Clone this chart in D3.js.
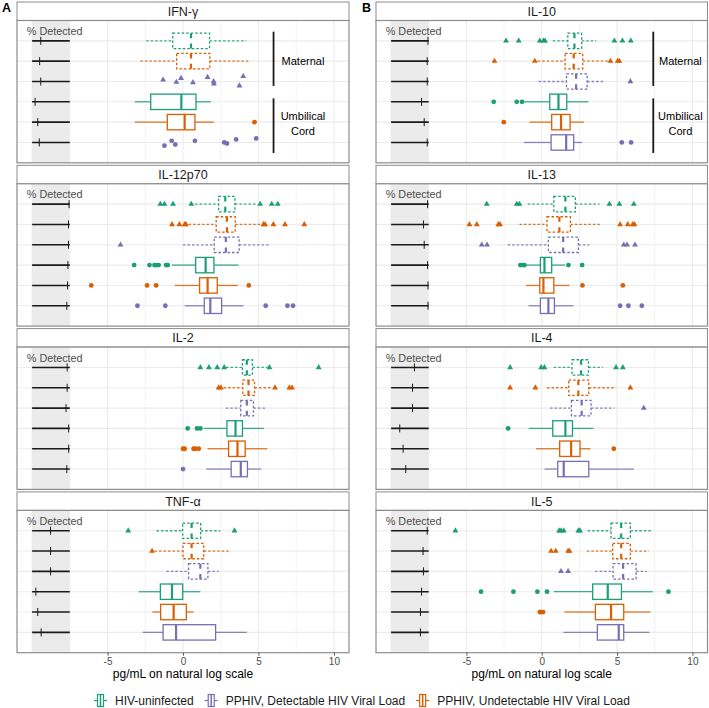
<!DOCTYPE html>
<html><head><meta charset="utf-8">
<script src="https://cdn.jsdelivr.net/npm/d3@7"></script>
<style>body{margin:0;background:#fff} svg{display:block;font-family:"Liberation Sans",Arial,Helvetica,sans-serif}</style>
</head><body><svg id="c" width="709" height="708"></svg>
<script>
// ---------------- data ----------------
const cytokines = ["IFN-γ","IL-12p70","IL-2","TNF-α","IL-10","IL-13","IL-4","IL-5"];
const rowGroups = [0,1,2,0,1,2]; // 0 HIV-uninfected, 1 PPHIV Undetectable, 2 PPHIV Detectable
const rowSample = ["Maternal","Maternal","Maternal","Umbilical Cord","Umbilical Cord","Umbilical Cord"];
const groupNames = ["HIV-uninfected","PPHIV, Undetectable HIV Viral Load","PPHIV, Detectable HIV Viral Load"];
const legendOrder = [0,2,1];
const groupColors = ["#1b9e77","#d95f02","#7570b3"];
const xTickValues = [-5,0,5,10];
const gridBreaks = [-10,-7.5,-5,-2.5,0,2.5,5,7.5,10];

// box stats per row: [lower whisker, q1, median, q3, upper whisker]; null = points only
const ifng_box = [[-2.44,-0.68,0.53,1.76,4.19],[-2.82,-0.42,0.53,1.78,4.45],null,[-3.19,-2.14,-0.11,0.86,1.85],[-3.19,-1.04,0.11,0.79,2.03],null];
const ifng_pts = [[],[],[-1.32,-0.44,-0.13,0.66,1.63,2.03,2.05,3.74,3.99],[],[4.74],[-1.23,-0.75,-0.51,0.79,2.73,2.91,3.52,4.85]];
const ifng_jit = [[],[],[-0.08,0.03,-0.16,0.05,-0.21,0,0.11,0.21,-0.25],[],[0],[0.16,-0.08,0.1,-0.08,0,0.05,-0.15,-0.2]];
const ifng_pct = [0.23,0.20,0.23,0.08,0.15,0.19];

const il12_box = [[0.8,2.36,2.80,3.44,4.9],[0.37,2.20,2.91,3.46,5.1],[0,2.07,2.84,3.72,5.81],[-0.73,0.84,1.50,2.05,3.68],[-0.55,1.10,1.63,2.27,3.63],[0.11,1.41,1.81,2.56,4.01]];
const il12_pts = [[-1.50,-1.23,-0.66,0.55,5.11,5.88,6.28],[-0.73,-0.24,0.11,0.20,5.33,5.44,5.99,6.76,8.04],[-4.14],[-3.24,-2.22,-1.89,-1.76,-1.61,-1.12,-1.01],[-6.08,-2.38,-1.78,4.36],[-3.02,-1.17,5.48,6.92,7.29]];
const il12_pct = [0.98,0.965,0.965,0.95,0.94,0.92];

const il2_box = [[2.85,3.94,4.23,4.60,5.6],[2.69,3.96,4.34,4.74,5.88],[2.84,3.83,4.23,4.67,5.55],[1.37,2.91,3.48,3.94,5.37],[1.63,3.02,3.61,4.12,5.59],[1.54,3.19,3.83,4.27,5.18]];
const il2_pts = [[1.15,1.72,2.27,2.73,5.73,8.99],[2.36,2.51,6.10,7.05,7.22],[],[0.31,0.93,1.15],[0.0,0.11,0.70,0.81,1.04],[0.0]];
const il2_pct = [0.93,0.93,0.90,0.97,0.97,0.92];

const tnf_box = [[-1.76,-0.02,0.57,1.17,2.47],[-1.89,0,0.57,1.37,3.17],[-1.10,0.37,1.15,1.65,2.36],[-2.93,-1.50,-0.73,-0.02,1.15],[-2.03,-1.48,-0.62,0.22,0.70],[-2.67,-1.32,-0.46,2.16,4.23]];
const tnf_pts = [[-3.63,3.41],[-2.05],[],[],[],[]];
const tnf_pct = [0.49,0.49,0.49,0.10,0.15,0.24];

const il10_box = [[0.73,1.73,2.17,2.65,3.61],[-0.27,1.55,2.12,2.72,4.45],[-0.20,1.64,2.28,3.01,4.20],[-1.15,0.53,1.11,1.66,3.10],[-0.82,0.66,1.28,1.88,2.79],[-1.19,0.62,1.62,2.12,2.68]];
const il10_pts = [[-2.37,-1.53,-0.13,0.11,0.22,4.82,5.35,5.91],[-3.14,-0.46,4.56,5.04,5.15],[5.88],[-3.19,-1.66,-1.31],[-2.52],[5.31,5.93]];
const il10_pct = [0.98,0.96,0.96,0.81,0.88,0.96];

const il13_box = [[-0.93,0.80,1.57,2.23,3.83],[-1.48,0.35,1.17,1.90,3.98],[-2.26,0.44,1.42,2.43,3.16],[-1.04,-0.09,0.18,0.66,1.55],[-1.04,-0.13,0.11,0.80,1.84],[-0.88,-0.09,0.44,0.84,2.10]];
const il13_pts = [[-3.65,-1.66,-1.48,4.49,5.15,6.11],[-4.80,-4.31,-2.88,-2.77,5.20,5.71,6.04,6.15],[-3.98,-3.63,5.44,5.66,6.19],[-1.42,-1.26,-1.15,1.77,2.68],[2.70,5.38],[5.20,5.75,6.64]];
const il13_pct = [0.97,0.86,0.88,0.97,0.98,0.98];

const il4_box = [[0.80,2.01,2.61,3.10,4.05],[0.35,1.79,2.43,3.12,4.93],[0.55,1.97,2.65,3.27,4.82],[-0.86,0.73,1.57,2.04,3.43],[-0.38,1.19,1.95,2.54,3.23],[0.18,1.06,1.46,3.12,6.11]];
const il4_pts = [[-2.10,-0.04,0.18,4.93,5.38],[-2.10,-0.42,5.88],[6.77],[-2.23],[4.78],[]];
const il4_pct = [0.62,0.57,0.57,0.23,0.32,0.39];

const il5_box = [[3.05,4.60,5.27,5.88,7.37],[2.99,4.71,5.27,5.88,7.10],[3.54,4.73,5.40,6.26,6.97],[0.80,3.38,4.38,5.29,7.37],[1.50,3.56,4.60,5.44,7.21],[1.44,3.69,5.11,5.44,7.15]];
const il5_pts = [[-5.73,1.15,1.28,1.46,2.43,2.54],[0.62,0.93,1.75,1.84],[1.28,1.75],[-4.03,-1.88,-0.29,0.35,8.41],[-0.13,-0.04,0.09],[]];
const il5_pct = [0.96,0.85,0.86,0.81,0.78,0.78];

const panelBoxes = [ifng_box, il12_box, il2_box, tnf_box, il10_box, il13_box, il4_box, il5_box];
const panelPts = [ifng_pts, il12_pts, il2_pts, tnf_pts, il10_pts, il13_pts, il4_pts, il5_pts];
const panelJit = [ifng_jit, null, null, null, null, null, null, null];
const panelPct = [ifng_pct, il12_pct, il2_pct, tnf_pct, il10_pct, il13_pct, il4_pct, il5_pct];

// ---------------- layout ----------------
const svg = d3.select("#c");
const cols = [
  {x0:17, x1:349, label:"A", lx:2, annLine:6.0, annText:7.95},
  {x0:376, x1:707.5, label:"B", lx:362, annLine:7.4, annText:9.2}
];
const facetTop0 = 2, facetStep = 163.3, stripH = 18.5, panelH = 142.3;
const boxHalf = 7.7;
const gridCol = "#ebebeb";

cytokines.forEach((name, p) => {
  const col = cols[Math.floor(p / 4)];
  const fi = p % 4;
  const top = facetTop0 + fi * facetStep;
  const pTop = top + stripH;
  const x = d3.scaleLinear().domain([-11, 11]).range([col.x0, col.x1]);
  const y = d3.scaleLinear().domain([0, 7]).range([pTop, pTop + panelH]);
  const g = svg.append("g");

  // strip
  g.append("rect").attr("x", col.x0).attr("y", top).attr("width", col.x1 - col.x0).attr("height", stripH)
    .attr("fill", "#fff").attr("stroke", "#8c8c8c").attr("stroke-width", 1);
  g.append("text").attr("x", (col.x0 + col.x1) / 2).attr("y", top + stripH / 2 + 4.5)
    .attr("text-anchor", "middle").attr("font-size", 12.5).attr("fill", "#1a1a1a").text(name);

  // panel background
  g.append("rect").attr("x", col.x0).attr("y", pTop).attr("width", col.x1 - col.x0).attr("height", panelH).attr("fill", "#fff");
  // vertical grid
  gridBreaks.forEach(b => {
    const major = Number.isInteger(b / 5);
    g.append("line").attr("x1", x(b)).attr("x2", x(b)).attr("y1", pTop).attr("y2", pTop + panelH)
      .attr("stroke", gridCol).attr("stroke-width", major ? 1.1 : 0.6);
  });
  // horizontal grid
  d3.range(1, 7).forEach(r => {
    g.append("line").attr("x1", col.x0).attr("x2", col.x1).attr("y1", y(r)).attr("y2", y(r))
      .attr("stroke", gridCol).attr("stroke-width", 1.1);
  });
  // % detected band
  g.append("rect").attr("x", x(-10)).attr("y", pTop).attr("width", x(-7.5) - x(-10)).attr("height", panelH)
    .attr("fill", "#ebebeb");
  g.append("text").attr("x", x(-8.5)).attr("y", y(0.52) + 4).attr("text-anchor", "middle")
    .attr("font-size", 10.8).attr("fill", "#4d4d4d").text("% Detected");
  panelPct[p].forEach((v, r) => {
    const yy = y(r + 1);
    g.append("line").attr("x1", x(-10)).attr("x2", x(-7.5)).attr("y1", yy).attr("y2", yy)
      .attr("stroke", "#1a1a1a").attr("stroke-width", 1.6);
    const px = x(-10 + 2.5 * v);
    g.append("line").attr("x1", px).attr("x2", px).attr("y1", yy - 4).attr("y2", yy + 4)
      .attr("stroke", "#1a1a1a").attr("stroke-width", 1);
  });

  // boxes
  panelBoxes[p].forEach((b, r) => {
    if (!b) return;
    const c = groupColors[rowGroups[r]];
    const dashed = r < 3;
    const yy = y(r + 1);
    const bg = g.append("g");
    const wdash = dashed ? "2.5,2" : null;
    bg.append("line").attr("x1", x(b[0])).attr("x2", x(b[1])).attr("y1", yy).attr("y2", yy)
      .attr("stroke", c).attr("stroke-width", 1.3).attr("stroke-opacity", 0.85).attr("stroke-dasharray", wdash);
    bg.append("line").attr("x1", x(b[3])).attr("x2", x(b[4])).attr("y1", yy).attr("y2", yy)
      .attr("stroke", c).attr("stroke-width", 1.3).attr("stroke-opacity", 0.85).attr("stroke-dasharray", wdash);
    bg.append("rect").attr("x", x(b[1])).attr("y", yy - boxHalf).attr("width", x(b[3]) - x(b[1])).attr("height", 2 * boxHalf)
      .attr("fill", "#fff").attr("stroke", c).attr("stroke-width", 1.3).attr("stroke-dasharray", wdash);
    bg.append("line").attr("x1", x(b[2])).attr("x2", x(b[2])).attr("y1", yy - boxHalf).attr("y2", yy + boxHalf)
      .attr("stroke", c).attr("stroke-width", 2.2).attr("stroke-dasharray", dashed ? "5,5.4" : null);
  });

  // points / outliers
  const tri = d3.symbol().type(d3.symbolTriangle).size(15);
  panelPts[p].forEach((arr, r) => {
    const c = groupColors[rowGroups[r]];
    const jit = panelJit[p] ? panelJit[p][r] : null;
    arr.forEach((v, k) => {
      const yy = y(r + 1 + (jit && jit[k] !== undefined ? jit[k] : 0));
      if (r < 3) {
        g.append("path").attr("d", tri).attr("transform", `translate(${x(v)},${yy})`).attr("fill", c);
      } else {
        g.append("circle").attr("cx", x(v)).attr("cy", yy).attr("r", 2.4).attr("fill", c);
      }
    });
  });

  // annotations in top panels
  if (fi === 0) {
    g.append("line").attr("x1", x(col.annLine)).attr("x2", x(col.annLine)).attr("y1", y(0.55)).attr("y2", y(3.22))
      .attr("stroke", "#1a1a1a").attr("stroke-width", 1.8);
    g.append("line").attr("x1", x(col.annLine)).attr("x2", x(col.annLine)).attr("y1", y(3.83)).attr("y2", y(6.52))
      .attr("stroke", "#1a1a1a").attr("stroke-width", 1.8);
    g.append("text").attr("x", x(col.annText)).attr("y", y(2) + 4).attr("text-anchor", "middle")
      .attr("font-size", 11).attr("fill", "#000").text("Maternal");
    g.append("text").attr("x", x(col.annText)).attr("y", y(4.7) + 4).attr("text-anchor", "middle")
      .attr("font-size", 11).attr("fill", "#000").text("Umbilical");
    g.append("text").attr("x", x(col.annText)).attr("y", y(5.45) + 4).attr("text-anchor", "middle")
      .attr("font-size", 11).attr("fill", "#000").text("Cord");
    svg.append("text").attr("x", col.lx).attr("y", 12).attr("font-size", 12.5).attr("font-weight", "bold")
      .attr("fill", "#000").text(col.label);
  }

  // panel border
  g.append("rect").attr("x", col.x0).attr("y", pTop).attr("width", col.x1 - col.x0).attr("height", panelH)
    .attr("fill", "none").attr("stroke", "#8c8c8c").attr("stroke-width", 1.2);

  // x axis on bottom panels
  if (fi === 3) {
    const ax = g.append("g").attr("transform", `translate(0,${pTop + panelH})`)
      .call(d3.axisBottom(x).tickValues(xTickValues).tickSize(3).tickPadding(2).tickFormat(d => String(d)));
    ax.select(".domain").remove();
    ax.selectAll(".tick line").attr("stroke", "#333").attr("stroke-width", 0.8);
    ax.selectAll(".tick text").attr("fill", "#4d4d4d").attr("font-size", 10)
      .attr("font-family", "'Liberation Sans',Arial,sans-serif");
    g.append("text").attr("x", (col.x0 + col.x1) / 2).attr("y", pTop + panelH + 25.5).attr("text-anchor", "middle")
      .attr("font-size", 12).attr("fill", "#000").text("pg/mL on natural log scale");
  }
});

// ---------------- legend ----------------
const leg = svg.append("g");
let lx = 94;
const ly = 700.5;
legendOrder.forEach(gi => {
  const c = groupColors[gi];
  leg.append("line").attr("x1", lx).attr("x2", lx + 3.5).attr("y1", ly).attr("y2", ly).attr("stroke", c).attr("stroke-width", 1.2);
  leg.append("line").attr("x1", lx + 9.5).attr("x2", lx + 13).attr("y1", ly).attr("y2", ly).attr("stroke", c).attr("stroke-width", 1.2);
  leg.append("rect").attr("x", lx + 3.5).attr("y", ly - 6).attr("width", 6).attr("height", 12)
    .attr("fill", "#fff").attr("stroke", c).attr("stroke-width", 1.2);
  leg.append("line").attr("x1", lx + 6.5).attr("x2", lx + 6.5).attr("y1", ly - 6).attr("y2", ly + 6).attr("stroke", c).attr("stroke-width", 1.5);
  const t = leg.append("text").attr("x", lx + 21).attr("y", ly + 4.3).attr("font-size", 12).attr("fill", "#1a1a1a").text(groupNames[gi]);
  lx += 21 + t.node().getComputedTextLength() + 11;
});
</script></body></html>
